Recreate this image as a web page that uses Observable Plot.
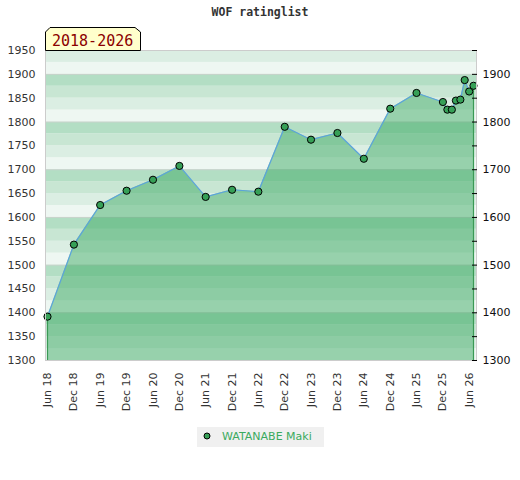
<!DOCTYPE html>
<html><head><meta charset="utf-8">
<script src="https://cdn.jsdelivr.net/npm/d3@7"></script>
<script src="https://cdn.jsdelivr.net/npm/@observablehq/plot@0.6"></script>
<style>
body{margin:0;background:#fff;width:520px;height:480px;position:relative;overflow:hidden;font-family:"DejaVu Sans",sans-serif}
#title{position:absolute;left:0;top:5px;width:520px;text-align:center;font:bold 11.5px "DejaVu Sans Mono",monospace;color:#333;line-height:14px}
#chart{position:absolute;left:0;top:26px}
#period{position:absolute;left:45px;top:27px}
#legend{position:absolute;left:197px;top:427px;width:127px;height:20px;background:#f0f0f0}
#legend svg{position:absolute;left:0;top:0}
#legend span{position:absolute;left:25px;top:3px;font:11px "DejaVu Sans",sans-serif;color:#3aaa5e;white-space:nowrap}
</style></head>
<body>
<div id="title"></div>
<div id="chart"></div>
<div id="period"></div>
<div id="legend"></div>
<script>
const chartTitle = "WOF ratinglist";
const periodLabel = "2018-2026";
const player = "WATANABE Maki";
const dates = ["2018-06","2018-12","2019-06","2019-12","2020-06","2020-12","2021-06","2021-12","2022-06","2022-12","2023-06","2023-12","2024-06","2024-12","2025-06","2025-12","2026-01","2026-02","2026-03","2026-04","2026-05","2026-06","2026-07"];
const ratings = [1392,1543,1626,1656,1679,1708,1643,1658,1654,1790,1763,1777,1723,1828,1861,1842,1826,1826,1845,1847,1888,1864,1876];
const xTickLabels = ["2018-06","2018-12","2019-06","2019-12","2020-06","2020-12","2021-06","2021-12","2022-06","2022-12","2023-06","2023-12","2024-06","2024-12","2025-06","2025-12","2026-06"];
const yLeftTicks = [1300,1350,1400,1450,1500,1550,1600,1650,1700,1750,1800,1850,1900,1950];
const yRightTicks = [1300,1400,1500,1600,1700,1800,1900];

const parse = d3.utcParse("%Y-%m");
const data = dates.map((d, i) => ({date: parse(d), rating: ratings[i]}));
const yMin = yLeftTicks[0], yMax = yLeftTicks[yLeftTicks.length - 1];
const bands = d3.range(yMin, yMax, 25);
const bandColors = ["#eef7f2", "#dbeee3", "#c8e6d3", "#b3dec4"];
const fmt = d3.format("d");

document.getElementById("title").textContent = chartTitle;

const chart = Plot.plot({
  width: 520, height: 400,
  marginLeft: 45, marginRight: 44, marginTop: 24, marginBottom: 66,
  x: {type: "utc", domain: [data[0].date, data[data.length - 1].date], range: [47, 473], label: null},
  y: {domain: [yMin, yMax], label: null},
  style: {fontFamily: "DejaVu Sans", fontSize: "11px", background: "transparent", overflow: "visible"},
  marks: [
    Plot.rect(bands, {y1: d => d, y2: d => d + 25, fill: d => bandColors[(d % 100) / 25]}),
    Plot.ruleY(yRightTicks.slice(1), {stroke: "#c9d3cc", strokeWidth: 1}),
    Plot.areaY(data, {x: "date", y1: yMin, y2: "rating", fill: "#37a75f", fillOpacity: 0.475}),
    Plot.ruleX([data[0], data[data.length - 1]], {x: "date", y1: yMin, y2: "rating", stroke: "#3a9a55", strokeWidth: 1.2}),
    Plot.line(data, {x: "date", y: "rating", stroke: "#5ba3dc", strokeWidth: 1.2}),
    Plot.dot(data, {x: "date", y: "rating", r: 3.6, fill: "#36a057", stroke: "#000", strokeWidth: 1}),
    Plot.frame({stroke: "#ccc"}),
    Plot.axisY({anchor: "left", ticks: yLeftTicks, tickFormat: fmt, tickSize: 0, tickPadding: 10, fill: "#333", label: null}),
    Plot.axisY({anchor: "right", ticks: yLeftTicks, tickSize: 5, dx: -5, tickFormat: () => "", stroke: "#000", label: null}),
    Plot.axisY({anchor: "right", ticks: yRightTicks, tickFormat: fmt, tickSize: 0, tickPadding: 6, fill: "#111", label: null}),
    Plot.axisX({ticks: xTickLabels.map(parse), tickFormat: d3.utcFormat("%b %y"), tickRotate: -90, tickSize: 0, tickPadding: 12, fill: "#333", label: null})
  ]
});
document.getElementById("chart").appendChild(chart);

// period box
const ps = d3.create("svg").attr("width", 97).attr("height", 24);
ps.append("polygon").attr("points", "0.5,23.5 0.5,5 5,0.5 90,0.5 95.5,5 95.5,23.5")
  .attr("fill", "#ffffcc").attr("stroke", "#000");
ps.append("text").attr("x", 7).attr("y", 19).attr("fill", "#8b0000")
  .style("font", "15px 'DejaVu Sans Mono', monospace").text(periodLabel);
document.getElementById("period").appendChild(ps.node());

// legend
const ls = d3.create("svg").attr("width", 20).attr("height", 20);
ls.append("circle").attr("cx", 10).attr("cy", 9).attr("r", 3).attr("fill", "#36a057").attr("stroke", "#000");
const leg = document.getElementById("legend");
leg.appendChild(ls.node());
const sp = document.createElement("span"); sp.textContent = player; leg.appendChild(sp);
</script>
</body></html>
